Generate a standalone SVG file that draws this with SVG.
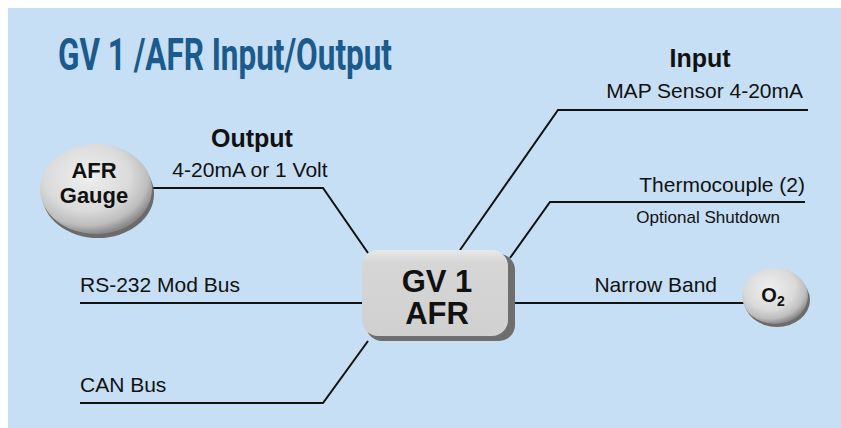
<svg xmlns="http://www.w3.org/2000/svg" width="841" height="428" viewBox="0 0 841 428">
<defs>
<style>
.t{font-family:"Liberation Sans",Arial,sans-serif;fill:#111;}
.lbl{font-size:21px;}
.hd{font-size:25px;font-weight:bold;}
.node{font-weight:bold;text-anchor:middle;}
.ln{stroke:#111;stroke-width:2;fill:none;}
</style>
<radialGradient id="oval" cx="0.42" cy="0.36" r="0.64">
<stop offset="0" stop-color="#efefef"/>
<stop offset="0.6" stop-color="#dadada"/>
<stop offset="0.85" stop-color="#bdbdbd"/>
<stop offset="1" stop-color="#8a8a8a"/>
</radialGradient>
<linearGradient id="box" x1="0" y1="0" x2="0" y2="1">
<stop offset="0" stop-color="#e8e8e8"/>
<stop offset="0.15" stop-color="#d6d6d6"/>
<stop offset="1" stop-color="#d0d0d0"/>
</linearGradient>
</defs>
<rect x="8" y="8" width="833" height="420" fill="#c6dff4"/>
<text x="58" y="70" textLength="334" lengthAdjust="spacingAndGlyphs" style="font-family:Roboto,'Liberation Sans',sans-serif;font-size:44px;font-weight:bold;fill:#1b5a8c">GV 1 /AFR Input/Output</text>
<g id="connectors">
<polyline class="ln" points="153,188 323,188 368,253"/>
<polyline class="ln" points="80,303 362,303"/>
<polyline class="ln" points="80,403 323,403 368,341"/>
<polyline class="ln" points="808,110 558,110 460,250"/>
<polyline class="ln" points="805,202 550,202 510,258"/>
<polyline class="ln" points="515,303 745,303"/>
</g>
<g id="labels">
<text class="t hd" x="252" y="147" text-anchor="middle">Output</text>
<text class="t lbl" x="250" y="177" text-anchor="middle">4-20mA or 1 Volt</text>
<text class="t hd" x="700" y="67" text-anchor="middle">Input</text>
<text class="t lbl" x="803" y="98" text-anchor="end">MAP Sensor 4-20mA</text>
<text class="t lbl" x="805" y="192" text-anchor="end">Thermocouple (2)</text>
<text class="t" x="780" y="223" text-anchor="end" style="font-size:17px">Optional Shutdown</text>
<text class="t lbl" x="80" y="292">RS-232 Mod Bus</text>
<text class="t lbl" x="80" y="392">CAN Bus</text>
<text class="t lbl" x="717" y="292" text-anchor="end">Narrow Band</text>
</g>
<g id="afr-gauge">
<ellipse cx="98" cy="194" rx="56" ry="44" fill="#6b6b6b"/>
<ellipse cx="96" cy="189" rx="56" ry="45" fill="url(#oval)"/>
<text class="t node" x="94" y="178" style="font-size:22px">AFR</text>
<text class="t node" x="94" y="203" style="font-size:22px">Gauge</text>
</g>
<g id="gv1-afr">
<rect x="366" y="254" width="149" height="87" rx="16" fill="#6e6e6e"/>
<rect x="362" y="250" width="146" height="86" rx="16" fill="url(#box)"/>
<text class="t node" x="437" y="292" style="font-size:31px">GV 1</text>
<text class="t node" x="437" y="324" style="font-size:31px">AFR</text>
</g>
<g id="o2">
<ellipse cx="777" cy="300" rx="33" ry="27" fill="#6b6b6b"/>
<ellipse cx="775" cy="296" rx="33" ry="28" fill="url(#oval)"/>
<text class="t node" x="773" y="302" style="font-size:20px">O<tspan style="font-size:14px" dy="4">2</tspan></text>
</g>
</svg>
